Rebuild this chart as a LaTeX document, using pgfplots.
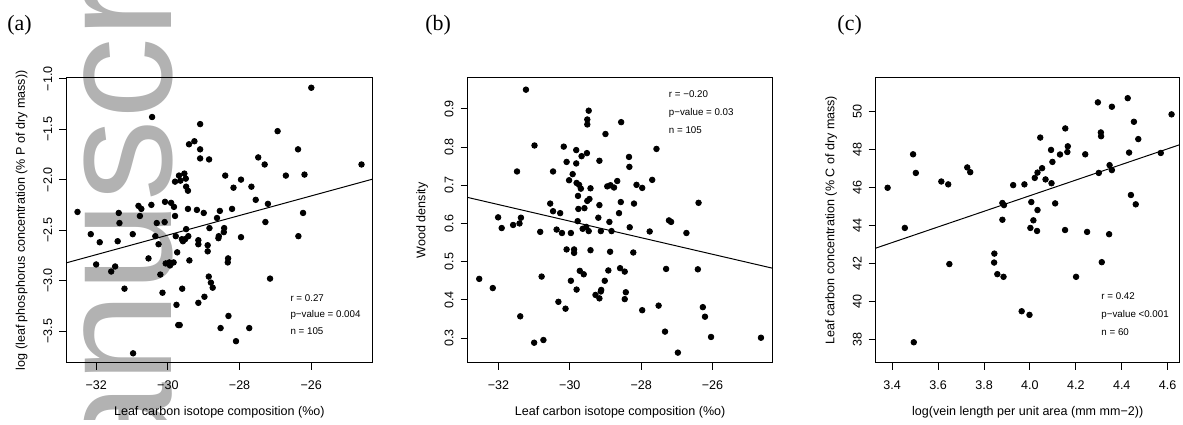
\documentclass[border=0pt]{standalone}
\usepackage{pgfplots}
\pgfplotsset{compat=1.18}
\usepackage{fontspec}
\setmainfont{Liberation Sans}
\newfontfamily\seriffont{Liberation Serif}

\pgfplotsset{
  rplot/.style={
    scale only axis, height=143.25pt, anchor=south west,
    font=\fontsize{6.3}{7.5}\selectfont,
    axis line style={line width=0.5pt},
    tick align=outside, major tick length=3.6pt,
    tick style={line width=0.5pt, black},
    tick pos=left,
    /pgf/number format/assume math mode=true,
    xticklabel style={yshift=-2pt},
    yticklabel style={rotate=90, anchor=south},
    clip=true,
  },
  pts/.style={only marks, mark=*, mark size=1.4pt, draw=black, fill=black},
  fit/.style={black, line width=0.5pt, no marks},
}
\tikzset{stat/.style={anchor=base west, inner sep=0pt, font=\fontsize{4.9}{6}\selectfont}}

\begin{document}
\begin{tikzpicture}
% page frame
\path (0pt,0pt) rectangle (591.5pt,210.5pt);

% watermark
\begin{scope}
\clip (0pt,0pt) rectangle (591.5pt,210.5pt);
\node[overlay, rotate=90, anchor=base west, inner sep=0pt, text=black!30,
      font=\fontsize{82}{82}\selectfont] at (85.9pt,-96pt) {Manuscript};
\end{scope}

% panel labels
\node[anchor=west, inner sep=0pt, font=\seriffont\fontsize{11}{12}\selectfont] at (3.5pt,198pt) {(a)};
\node[anchor=west, inner sep=0pt, font=\seriffont\fontsize{11}{12}\selectfont] at (213.5pt,198pt) {(b)};
\node[anchor=west, inner sep=0pt, font=\seriffont\fontsize{11}{12}\selectfont] at (420.5pt,198pt) {(c)};

% (a)
\begin{axis}[rplot, at={(33.35pt,28.25pt)}, width=153.65pt,
  xmin=-32.83, xmax=-24.30, ymin=-3.814, ymax=-0.99,
  xtick={-32,-30,-28,-26}, xticklabels={−32,−30,−28,−26},
  ytick={-3.5,-3,-2.5,-2,-1.5,-1},
  yticklabels={−3.5,−3.0,−2.5,−2.0,−1.5,−1.0},
  xlabel={Leaf carbon isotope composition (\%o)},
  ylabel={log (leaf phosphorus concentration (\% P of dry mass))},
  xlabel style={at={(axis description cs:0.5,-0.1728)}, anchor=center},
  ylabel style={at={(axis description cs:-0.1464,0.5)}, anchor=center},
]
\addplot[pts] coordinates {
(-30.44,-1.38) (-29.10,-1.45) (-29.41,-1.65) (-29.26,-1.62) (-29.10,-1.70)
(-29.10,-1.79) (-28.85,-1.80) (-29.69,-1.96) (-29.54,-1.94) (-29.80,-2.02)
(-29.65,-2.01) (-29.50,-1.99) (-29.49,-2.07) (-29.44,-2.11) (-32.52,-2.32)
(-31.37,-2.33) (-30.82,-2.26) (-30.74,-2.29) (-30.46,-2.25) (-30.08,-2.22)
(-29.91,-2.23) (-29.83,-2.27) (-29.80,-2.36) (-30.78,-2.36) (-29.44,-2.29)
(-29.19,-2.30) (-29.00,-2.33) (-28.63,-2.38) (-26.00,-1.09) (-26.94,-1.52)
(-26.37,-1.70) (-27.48,-1.78) (-27.30,-1.85) (-24.60,-1.85) (-28.40,-1.96)
(-26.71,-1.96) (-26.19,-1.95) (-27.96,-2.00) (-28.17,-2.08) (-27.67,-2.07)
(-27.55,-2.20) (-27.21,-2.24) (-28.55,-2.31) (-28.21,-2.29) (-26.23,-2.33)
(-27.28,-2.42) (-31.35,-2.43) (-30.31,-2.43) (-30.09,-2.42) (-32.15,-2.54)
(-30.98,-2.54) (-31.90,-2.62) (-31.40,-2.61) (-30.35,-2.56) (-30.26,-2.64)
(-29.78,-2.56) (-29.49,-2.49) (-29.61,-2.59) (-29.58,-2.61) (-29.52,-2.59)
(-29.43,-2.56) (-29.15,-2.60) (-29.15,-2.64) (-28.89,-2.65) (-28.89,-2.71)
(-28.84,-2.48) (-28.59,-2.58) (-29.74,-2.72) (-30.54,-2.78) (-32.00,-2.84)
(-31.58,-2.91) (-31.47,-2.86) (-30.06,-2.83) (-29.96,-2.82) (-29.84,-2.82)
(-29.94,-2.85) (-29.40,-2.80) (-30.21,-2.94) (-31.21,-3.08) (-30.15,-3.12)
(-29.60,-3.08) (-28.86,-2.96) (-28.80,-3.02) (-28.75,-3.07) (-28.98,-3.16)
(-29.15,-3.22) (-29.76,-3.24) (-29.71,-3.44) (-29.67,-3.44) (-30.97,-3.72)
(-28.43,-2.48) (-28.44,-2.52) (-28.58,-2.56) (-27.96,-2.57) (-26.36,-2.56)
(-28.32,-2.78) (-28.33,-2.82) (-27.15,-2.98) (-28.31,-3.35) (-28.53,-3.47)
(-27.73,-3.47) (-28.10,-3.60)
};
\addplot[fit] coordinates {(-32.83,-2.824) (-24.30,-1.996)};
\node[stat] at (axis cs:-26.59,-3.207) {r = 0.27};
\node[stat] at (axis cs:-26.59,-3.367) {p−value = 0.004};
\node[stat] at (axis cs:-26.59,-3.535) {n = 105};
\end{axis}

% (b)
\begin{axis}[rplot, at={(235pt,28.25pt)}, width=153pt,
  xmin=-32.86, xmax=-24.32, ymin=0.2354, ymax=0.9815,
  xtick={-32,-30,-28,-26}, xticklabels={−32,−30,−28,−26},
  ytick={0.3,0.4,0.5,0.6,0.7,0.8,0.9},
  yticklabels={0.3,0.4,0.5,0.6,0.7,0.8,0.9},
  xlabel={Leaf carbon isotope composition (\%o)},
  ylabel={Wood density},
  xlabel style={at={(axis description cs:0.5,-0.1728)}, anchor=center},
  ylabel style={at={(axis description cs:-0.1497,0.5)}, anchor=center},
]
\addplot[pts] coordinates {
(-31.23,0.950) (-30.99,0.804) (-31.48,0.736) (-30.47,0.736) (-30.17,0.801)
(-30.09,0.761) (-29.82,0.792) (-29.82,0.757) (-29.67,0.776) (-29.52,0.784)
(-29.47,0.895) (-29.51,0.872) (-29.51,0.859) (-29.00,0.834) (-28.56,0.865)
(-29.17,0.764) (-28.34,0.774) (-28.33,0.748) (-27.57,0.795) (-29.92,0.729)
(-30.02,0.713) (-29.81,0.706) (-29.74,0.701) (-29.69,0.691) (-29.42,0.692)
(-29.77,0.672) (-29.51,0.659) (-29.45,0.664) (-28.95,0.697) (-28.86,0.700)
(-28.76,0.694) (-28.67,0.711) (-28.13,0.701) (-27.97,0.693) (-27.69,0.714)
(-30.55,0.652) (-29.17,0.648) (-28.57,0.656) (-28.20,0.652) (-26.39,0.654)
(-30.47,0.632) (-30.27,0.627) (-29.76,0.638) (-29.59,0.640) (-32.01,0.616)
(-31.37,0.615) (-29.78,0.606) (-29.20,0.615) (-28.89,0.604) (-28.62,0.627)
(-31.91,0.588) (-31.59,0.596) (-31.41,0.600) (-30.83,0.578) (-30.37,0.584)
(-30.22,0.575) (-29.97,0.575) (-29.64,0.586) (-29.54,0.591) (-29.47,0.580)
(-29.13,0.580) (-28.83,0.580) (-28.32,0.590) (-27.76,0.579) (-27.22,0.608)
(-27.16,0.604) (-26.73,0.575) (-30.09,0.532) (-29.88,0.532) (-29.88,0.523)
(-29.42,0.530) (-28.87,0.526) (-28.22,0.524) (-32.54,0.455) (-32.16,0.431)
(-30.79,0.461) (-29.97,0.450) (-29.72,0.476) (-29.61,0.467) (-29.81,0.427)
(-29.02,0.450) (-28.92,0.477) (-28.59,0.483) (-28.46,0.474) (-27.30,0.481)
(-26.41,0.480) (-29.28,0.413) (-29.17,0.404) (-29.12,0.426) (-29.13,0.422)
(-28.43,0.420) (-28.46,0.402) (-30.32,0.395) (-30.12,0.377) (-27.97,0.373)
(-27.51,0.385) (-26.27,0.381) (-26.21,0.356) (-31.39,0.357) (-31.00,0.288)
(-30.74,0.295) (-27.33,0.317) (-26.97,0.262) (-26.04,0.303) (-24.64,0.301)
};
\addplot[fit] coordinates {(-32.86,0.668) (-24.32,0.483)};
\node[stat] at (axis cs:-27.23,0.9307) {r = −0.20};
\node[stat] at (axis cs:-27.23,0.883) {p−value = 0.03};
\node[stat] at (axis cs:-27.23,0.836) {n = 105};
\end{axis}

% (c)
\begin{axis}[rplot, at={(440pt,28.25pt)}, width=152.5pt,
  xmin=3.329, xmax=4.6515, ymin=36.77, ymax=51.76,
  xtick={3.4,3.6,3.8,4.0,4.2,4.4,4.6},
  xticklabels={3.4,3.6,3.8,4.0,4.2,4.4,4.6},
  ytick={38,40,42,44,46,48,50},
  yticklabels={38,40,42,44,46,48,50},
  xlabel={log(vein length per unit area (mm mm−2))},
  ylabel={Leaf carbon concentration (\% C of dry mass)},
  xlabel style={at={(axis description cs:0.5,-0.1728)}, anchor=center},
  ylabel style={at={(axis description cs:-0.1475,0.5)}, anchor=center},
]
\addplot[pts] coordinates {
(3.380,45.97) (3.491,47.73) (3.503,46.75) (3.614,46.30) (3.644,46.15)
(3.727,47.04) (3.740,46.79) (3.880,45.17) (3.887,45.06) (3.927,46.11)
(3.976,46.15) (4.006,45.22) (4.021,46.49) (4.033,46.77) (4.053,47.00)
(4.045,48.61) (4.068,46.41) (4.092,47.96) (4.098,47.33) (4.094,46.21)
(4.110,45.15) (4.131,47.72) (4.154,49.09) (4.165,48.15) (4.163,47.85)
(4.241,47.73) (4.296,50.46) (4.300,46.75) (4.309,48.88) (4.310,48.68)
(4.357,50.23) (4.347,47.16) (4.357,46.90) (4.426,50.68) (4.432,47.82)
(4.453,49.44) (4.472,48.53) (4.440,45.59) (4.461,45.10) (4.570,47.80)
(4.617,49.83) (4.033,44.80) (3.455,43.86) (3.649,41.96) (3.494,37.85)
(3.880,44.29) (3.845,42.51) (3.844,42.04) (3.858,41.43) (3.885,41.29)
(4.002,43.86) (4.015,44.26) (4.031,43.70) (3.964,39.48) (3.998,39.29)
(4.153,43.75) (4.201,41.29) (4.249,43.65) (4.313,42.06) (4.345,43.53)
};
\addplot[fit] coordinates {(3.329,42.80) (4.6515,48.23)};
\node[stat] at (axis cs:4.310,40.10) {r = 0.42};
\node[stat] at (axis cs:4.310,39.16) {p−value <0.001};
\node[stat] at (axis cs:4.310,38.23) {n = 60};
\end{axis}
\end{tikzpicture}
\end{document}
